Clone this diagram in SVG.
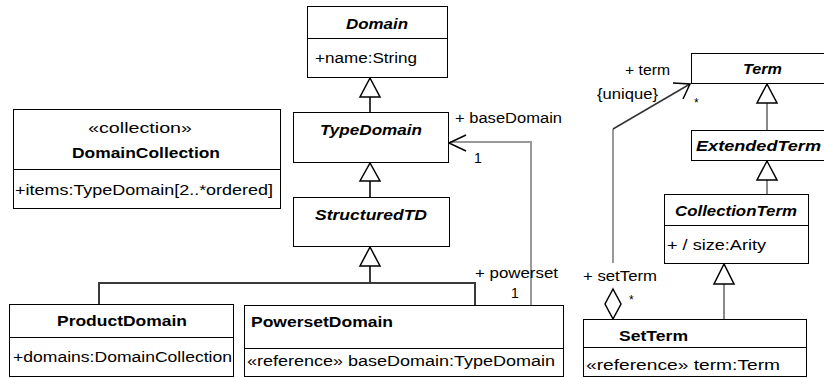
<svg xmlns="http://www.w3.org/2000/svg" width="824" height="378" viewBox="0 0 824 378">
<style>
  .box { fill: #ffffff; stroke: #000000; stroke-width: 1; }
  .div { stroke: #000000; stroke-width: 1; }
  text { font-family: "Liberation Sans", Arial, sans-serif; font-size: 14px; fill: #000000; }
  .name { font-weight: bold; }
  .abs { font-weight: bold; font-style: italic; }
  .gen { fill: none; stroke: #3a3a3a; stroke-width: 2; }
  .gen2 { fill: none; stroke: #8a8a8a; stroke-width: 2; }
  .tri { fill: #ffffff; stroke: #000000; stroke-width: 1.5; stroke-linejoin: miter; }
  .assoc { fill: none; stroke: #999999; stroke-width: 2; }
  .assocd { fill: none; stroke: #333333; stroke-width: 1.5; }
  .arrow { fill: none; stroke: #000000; stroke-width: 1.5; }
</style>

<g id="connectors">
  <!-- Domain <- TypeDomain -->
  <line class="gen" x1="370" y1="97" x2="370" y2="112"/>
  <polygon class="tri" points="370,78 360,97 380,97"/>
  <!-- TypeDomain <- StructuredTD -->
  <line class="gen" x1="370" y1="181" x2="370" y2="197"/>
  <polygon class="tri" points="370,163 360,181 380,181"/>
  <!-- StructuredTD <- ProductDomain, PowersetDomain -->
  <polyline class="gen" points="99,304 99,283 475,283 475,305"/>
  <line class="gen" x1="370" y1="266" x2="370" y2="283"/>
  <polygon class="tri" points="370,247 360,266 380,266"/>
  <!-- baseDomain association -->
  <polyline class="assoc" points="531,305 531,142 450,142"/>
  <polyline class="arrow" points="466,135 449,143 466,151"/>
  <text x="455" y="123" textLength="107" lengthAdjust="spacingAndGlyphs">+ baseDomain</text>
  <text x="474" y="163">1</text>
  <text x="475" y="278" textLength="83" lengthAdjust="spacingAndGlyphs">+ powerset</text>
  <text x="511" y="298">1</text>
  <!-- Term <- ExtendedTerm -->
  <line class="gen2" x1="767" y1="103" x2="767" y2="130"/>
  <polygon class="tri" points="767,84 757,103 777,103"/>
  <!-- ExtendedTerm <- CollectionTerm -->
  <line class="gen2" x1="767" y1="180" x2="767" y2="194"/>
  <polygon class="tri" points="767,161 757,180 777,180"/>
  <!-- CollectionTerm <- SetTerm -->
  <line class="gen2" x1="724" y1="284" x2="724" y2="319"/>
  <polygon class="tri" points="724,264 714,284 734,284"/>
  <!-- setTerm -> term association -->
  <line class="assoc" x1="613" y1="263" x2="613" y2="129"/>
  <line class="assocd" x1="613" y1="129" x2="690" y2="84"/>
  <polyline class="arrow" points="673,83 690,84 683,99"/>
  <polygon class="tri" points="613,289 621,304 613,319 605,304"/>
  <text x="625" y="75" textLength="45" lengthAdjust="spacingAndGlyphs">+ term</text>
  <text x="597" y="99" textLength="61" lengthAdjust="spacingAndGlyphs">{unique}</text>
  <text x="694" y="107" style="font-size:12px">*</text>
  <text x="583" y="281" textLength="74" lengthAdjust="spacingAndGlyphs">+ setTerm</text>
  <text x="629" y="304" style="font-size:12px">*</text>
</g>

<g id="Domain">
  <rect class="box" x="307.5" y="6.5" width="140" height="71"/>
  <line class="div" x1="307.5" y1="38.5" x2="447.5" y2="38.5"/>
  <text class="abs" x="346" y="29" textLength="62" lengthAdjust="spacingAndGlyphs">Domain</text>
  <text x="315" y="63" textLength="102" lengthAdjust="spacingAndGlyphs">+name:String</text>
</g>

<g id="TypeDomain">
  <rect class="box" x="293.5" y="112.5" width="155" height="50"/>
  <text class="abs" x="320" y="135" textLength="102" lengthAdjust="spacingAndGlyphs">TypeDomain</text>
</g>

<g id="StructuredTD">
  <rect class="box" x="293.5" y="197.5" width="156" height="49"/>
  <text class="abs" x="315" y="220" textLength="112" lengthAdjust="spacingAndGlyphs">StructuredTD</text>
</g>

<g id="DomainCollection">
  <rect class="box" x="13.5" y="109.5" width="267" height="99"/>
  <line class="div" x1="13.5" y1="169.5" x2="280.5" y2="169.5"/>
  <text x="88" y="133" textLength="104" lengthAdjust="spacingAndGlyphs">«collection»</text>
  <text class="name" x="72" y="158" textLength="148" lengthAdjust="spacingAndGlyphs">DomainCollection</text>
  <text x="15" y="195" textLength="258" lengthAdjust="spacingAndGlyphs">+items:TypeDomain[2..*ordered]</text>
</g>

<g id="ProductDomain">
  <rect class="box" x="9.5" y="304.5" width="224" height="72"/>
  <line class="div" x1="9.5" y1="337.5" x2="233.5" y2="337.5"/>
  <text class="name" x="57" y="326" textLength="130" lengthAdjust="spacingAndGlyphs">ProductDomain</text>
  <text x="13" y="362" textLength="219" lengthAdjust="spacingAndGlyphs">+domains:DomainCollection</text>
</g>

<g id="PowersetDomain">
  <rect class="box" x="244.5" y="305.5" width="319" height="71"/>
  <line class="div" x1="244.5" y1="348.5" x2="563.5" y2="348.5"/>
  <text class="name" x="251" y="327" textLength="142" lengthAdjust="spacingAndGlyphs">PowersetDomain</text>
  <text x="247" y="366" textLength="308" lengthAdjust="spacingAndGlyphs">«reference» baseDomain:TypeDomain</text>
</g>

<g id="Term">
  <rect class="box" x="691.5" y="53.5" width="140" height="30"/>
  <text class="abs" x="743" y="74" textLength="39" lengthAdjust="spacingAndGlyphs">Term</text>
</g>

<g id="ExtendedTerm">
  <rect class="box" x="691.5" y="130.5" width="140" height="30"/>
  <text class="abs" x="696" y="151" textLength="125" lengthAdjust="spacingAndGlyphs">ExtendedTerm</text>
</g>

<g id="CollectionTerm">
  <rect class="box" x="664.5" y="194.5" width="144" height="69"/>
  <line class="div" x1="664.5" y1="225.5" x2="808.5" y2="225.5"/>
  <text class="abs" x="675" y="216" textLength="122" lengthAdjust="spacingAndGlyphs">CollectionTerm</text>
  <text x="667" y="250" textLength="99" lengthAdjust="spacingAndGlyphs">+ / size:Arity</text>
</g>

<g id="SetTerm">
  <rect class="box" x="583.5" y="319.5" width="223" height="57"/>
  <line class="div" x1="583.5" y1="347.5" x2="806.5" y2="347.5"/>
  <text class="name" x="619" y="341" textLength="69" lengthAdjust="spacingAndGlyphs">SetTerm</text>
  <text x="586" y="370" textLength="194" lengthAdjust="spacingAndGlyphs">«reference» term:Term</text>
</g>
</svg>
